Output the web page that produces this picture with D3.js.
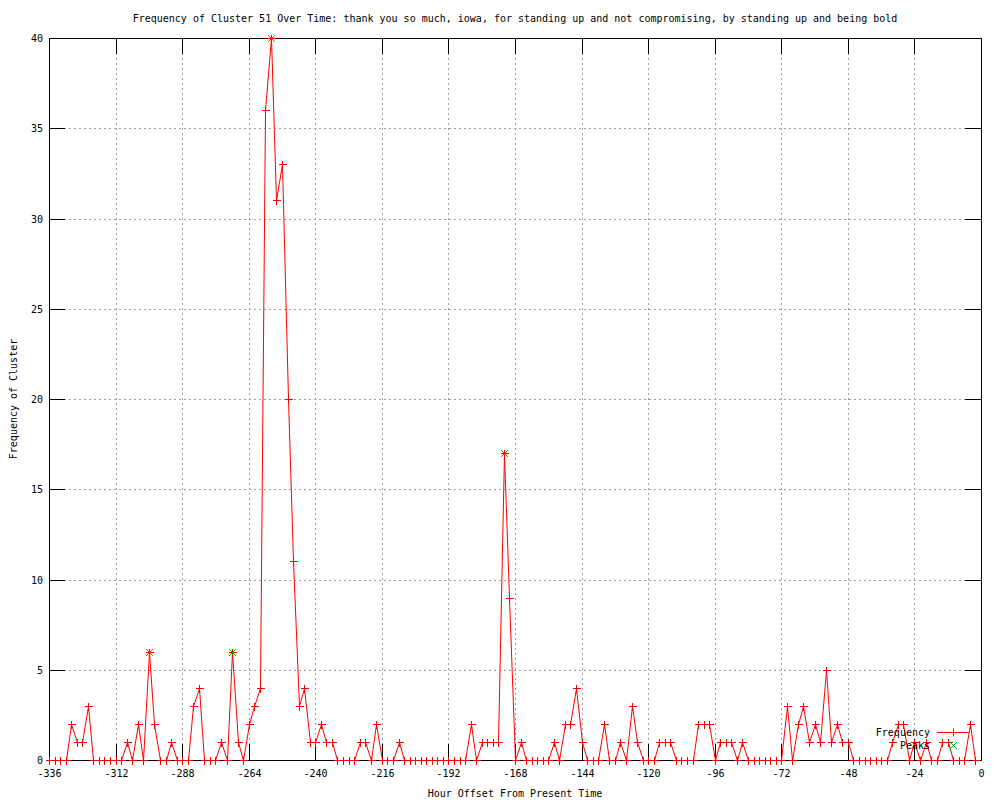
<!DOCTYPE html>
<html><head><meta charset="utf-8">
<script src="https://cdn.jsdelivr.net/npm/d3@7"></script>
<style>body{margin:0;background:#fff}svg{display:block}</style>
</head><body>
<svg id="c" width="1000" height="800"></svg>
<script>
// ---- data ----
const titleText = "Frequency of Cluster 51 Over Time: thank you so much, iowa, for standing up and not compromising, by standing up and being bold";
const xLabel = "Hour Offset From Present Time";
const yLabel = "Frequency of Cluster";
const hours = d3.range(-336, 0, 2);
const frequency = [
  0,0,0,0,2,1,1,3,0,0,0,0,
  0,0,1,0,2,0,6,2,0,0,1,0,
  0,0,3,4,0,0,0,1,0,6,1,0,
  2,3,4,36,40,31,33,20,11,3,4,1,
  1,2,1,1,0,0,0,0,1,1,0,2,
  0,0,0,1,0,0,0,0,0,0,0,0,
  0,0,0,0,2,0,1,1,1,1,17,9,
  0,1,0,0,0,0,0,1,0,2,2,4,
  1,0,0,0,2,0,0,1,0,3,1,0,
  0,0,1,1,1,0,0,0,0,2,2,2,
  0,1,1,1,0,1,0,0,0,0,0,0,
  0,3,0,2,3,1,2,1,5,1,2,1,
  1,0,0,0,0,0,0,0,1,2,2,0,
  1,0,1,0,0,1,1,0,0,0,2,0
];
const peakHours = [-300, -270, -256, -172];
const peakValues = [6, 6, 40, 17];
const xTicks = [-336,-312,-288,-264,-240,-216,-192,-168,-144,-120,-96,-72,-48,-24,0];
const yTicks = [0,5,10,15,20,25,30,35,40];
const seriesNames = ["Frequency", "Peaks"];

// ---- layout ----
const L = 49, R = 981, T = 38, B = 760;
const svg = d3.select("#c");
const font = "'DejaVu Sans Mono', 'Liberation Mono', monospace";
svg.append("rect").attr("width",1000).attr("height",800).attr("fill","#fff");

const x = d3.scaleLinear().domain([-336, 0]).range([L, R]);
const y = d3.scaleLinear().domain([0, 40]).range([B, T]);
const px = v => Math.round(v) + 0.5;

// grid
const grid = svg.append("g").attr("stroke","#a0a0a0").attr("stroke-dasharray","2,3")
  .attr("shape-rendering","crispEdges");
xTicks.slice(1,-1).forEach(t => grid.append("line")
  .attr("x1",px(x(t))).attr("x2",px(x(t))).attr("y1",T).attr("y2",B));
yTicks.slice(1,-1).forEach(t => grid.append("line")
  .attr("x1",L).attr("x2",R).attr("y1",px(y(t))).attr("y2",px(y(t))));

// axes
const TL = 16;
const axB = d3.axisBottom(x).tickValues(xTicks).tickSize(-TL).tickPadding(10).tickFormat(d => String(d));
const axT = d3.axisTop(x).tickValues(xTicks).tickSize(-TL).tickFormat("");
const axL = d3.axisLeft(y).tickValues(yTicks).tickSize(-TL).tickPadding(6).tickFormat(d => String(d));
const axR = d3.axisRight(y).tickValues(yTicks).tickSize(-TL).tickFormat("");

function styleAxis(g){
  g.select(".domain").remove();
  g.selectAll("line").attr("stroke","#000").attr("shape-rendering","crispEdges");
  g.selectAll("text").attr("font-family",font).attr("font-size",10).attr("fill","#000");
}
svg.append("g").attr("transform",`translate(0,${B})`).call(axB).call(styleAxis)
  .selectAll(".tick").attr("transform", d => `translate(${px(x(d))},0)`);
svg.append("g").attr("transform",`translate(0,${T})`).call(axT).call(styleAxis)
  .selectAll(".tick").attr("transform", d => `translate(${px(x(d))},0)`);
svg.append("g").attr("transform",`translate(${L},0)`).call(axL).call(styleAxis)
  .selectAll(".tick").attr("transform", d => `translate(0,${px(y(d))})`);
svg.append("g").attr("transform",`translate(${R},0)`).call(axR).call(styleAxis)
  .selectAll(".tick").attr("transform", d => `translate(0,${px(y(d))})`);

// border
svg.append("rect").attr("x",L+0.5).attr("y",T+0.5).attr("width",R-L).attr("height",B-T)
  .attr("fill","none").attr("stroke","#000").attr("shape-rendering","crispEdges");

// data line
const pts = hours.map((h,i) => [h, frequency[i]]);
const line = d3.line().x(d => px(x(d[0]))).y(d => px(y(d[1])));
svg.append("path").datum(pts).attr("d", line).attr("fill","none")
  .attr("stroke","#ff0000").attr("stroke-width",1);

const plus = "M-4,0H4M0,-4V4";
const cross = "M-3.5,-3.5L3.5,3.5M-3.5,3.5L3.5,-3.5";
svg.append("g").selectAll("path").data(pts).join("path")
  .attr("transform", d => `translate(${px(x(d[0]))},${px(y(d[1]))})`)
  .attr("d", plus).attr("stroke","#ff0000").attr("fill","none").attr("shape-rendering","crispEdges");

const peaks = peakHours.map((h,i) => [h, peakValues[i]]);
svg.append("g").selectAll("path").data(peaks).join("path")
  .attr("transform", d => `translate(${px(x(d[0]))},${px(y(d[1]))})`)
  .attr("d", cross).attr("stroke","#00c000").attr("fill","none");

// legend
const lg = svg.append("g").attr("font-family",font).attr("font-size",10);
lg.append("text").attr("x",930).attr("y",736).attr("text-anchor","end").text(seriesNames[0]);
lg.append("line").attr("x1",937).attr("x2",969).attr("y1",732.5).attr("y2",732.5).attr("stroke","#ff0000");
lg.append("path").attr("transform","translate(953.5,732.5)").attr("d",plus).attr("stroke","#ff0000");
lg.append("text").attr("x",930).attr("y",749).attr("text-anchor","end").text(seriesNames[1]);
lg.append("path").attr("transform","translate(953.5,745.5)").attr("d",cross).attr("stroke","#00c000");

// titles
svg.append("text").attr("x",515).attr("y",22).attr("text-anchor","middle")
  .attr("font-family",font).attr("font-size",10).text(titleText);
svg.append("text").attr("x",515).attr("y",797).attr("text-anchor","middle")
  .attr("font-family",font).attr("font-size",10).text(xLabel);
svg.append("text").attr("transform","translate(16.5,399) rotate(-90)").attr("text-anchor","middle")
  .attr("font-family",font).attr("font-size",10).text(yLabel);
</script>
</body></html>
